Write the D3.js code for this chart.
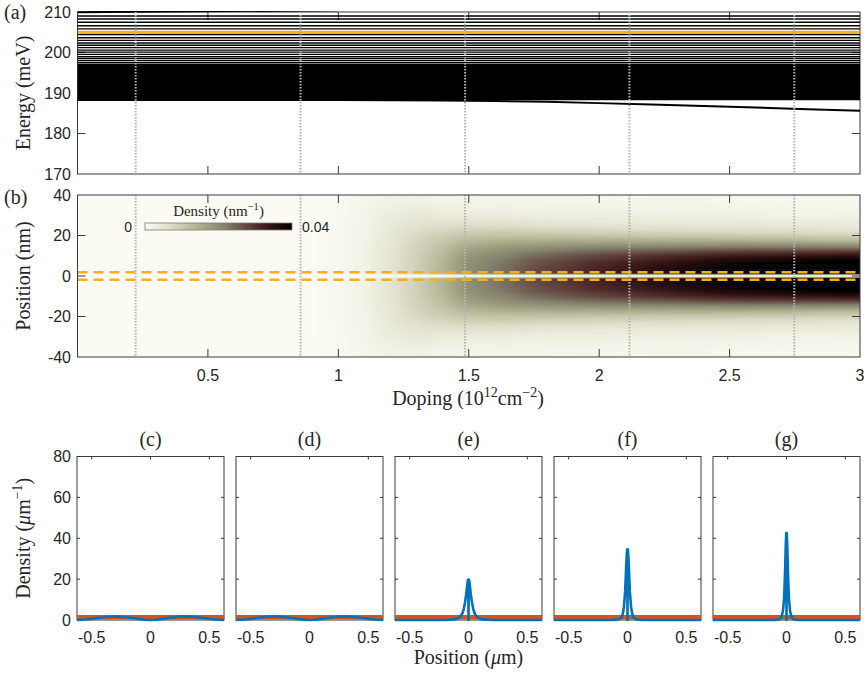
<!DOCTYPE html>
<html>
<head>
<meta charset="utf-8">
<script src="https://cdn.jsdelivr.net/npm/d3@7"></script>
<style>
  body { margin: 0; background: #fff; }
  svg { display: block; }
</style>
</head>
<body>
<svg id="fig" width="864" height="673"></svg>
<script>
// ---------- data ----------
// (a) subband energies (meV) that stay flat across the doping range
const levelEnergies = [209.0, 208.27, 207.46, 206.6, 205.85, 204.45, 203.65, 203.0, 202.35, 201.8,
  201.2, 200.6, 200.1, 199.55, 198.96, 198.47, 197.98, 197.48,
  196.9, 196.6, 196.3, 196.0, 195.7, 195.4, 195.1, 194.8, 194.5, 194.2, 193.9, 193.6, 193.3,
  193.0, 192.7, 192.45, 192.2, 191.95, 191.7, 191.45, 191.2, 190.95, 190.7, 190.5, 190.3,
  190.1, 189.9, 189.7, 189.5, 189.3, 189.1, 188.95, 188.8, 188.65, 188.5, 188.4];
// lowest subband, pulled down at high doping
const groundDoping = [0, 0.8, 1.0, 1.2, 1.4, 1.6, 1.8, 2.0, 2.2, 2.4, 2.6, 2.8, 3.0];
const groundEnergy = [188.3, 188.3, 188.28, 188.22, 188.12, 188.0, 187.85, 187.5, 187.15, 186.8, 186.4, 186.0, 185.6];
// highest subband, leaving the window
const topDoping = [0, 1.0];
const topEnergy = [209.95, 210.43];
// chemical potential (meV)
const fermiEnergy = 205.05;
// doping values of the cuts (c)-(g)
const cutDoping = [0.223, 0.855, 1.486, 2.116, 2.748];

// (b) density map: peak density and spread per doping value
const mapDoping = [0, 0.9, 1.0, 1.1, 1.2, 1.3, 1.4, 1.5, 1.75, 2.0, 2.25, 2.5, 2.75, 3.0];
const mapPeak   = [0, 0, 0.0005, 0.002, 0.005, 0.009, 0.014, 0.020, 0.027, 0.032, 0.036, 0.040, 0.0425, 0.045];
const mapWidth  = [40, 40, 40, 34, 28, 23, 19, 17, 15, 13.8, 13, 12.5, 12, 11.5];
// transverse profile (distance / spread -> relative density)
const shapeU = [0, 0.25, 0.5, 0.75, 1, 1.25, 1.5, 1.75, 2, 2.5, 3, 4, 5, 8];
const shapeS = [1, 0.99, 0.95, 0.85, 0.68, 0.48, 0.3, 0.18, 0.11, 0.05, 0.025, 0.01, 0.005, 0];
// node at the centre of the wire (nm -> factor)
const nodeY = [0, 0.4, 0.8, 1.2, 1.6];
const nodeF = [0, 0.15, 0.5, 0.85, 1];
// guide positions (nm)
const guidePos = [1.9, -1.9];
// colour map stops (fraction of 0.04 nm^-1)
const cmapStops  = [0, 0.15, 0.3, 0.45, 0.55, 0.65, 0.75, 0.87, 1];
const cmapColors = ["#fbfbf4", "#e0e0cc", "#bfbfa2", "#9a9a7b", "#83806c", "#6c554c", "#52302d", "#2c0f0f", "#000000"];
const cmapMax = 0.04;

// (c)-(g) line densities along the wire (µm^-1)
const cutTitles = ["(c)", "(d)", "(e)", "(f)", "(g)"];
const waveX = [-0.625, -0.55, -0.5, -0.45, -0.4, -0.35, -0.3, -0.25, -0.2, -0.15, -0.1, -0.05, 0,
  0.05, 0.1, 0.15, 0.2, 0.25, 0.3, 0.35, 0.4, 0.45, 0.5, 0.55, 0.625];
const waveC = [0, 0.25, 0.6, 1.0, 1.35, 1.6, 1.7, 1.6, 1.35, 1.0, 0.55, 0.15, 0,
  0.15, 0.55, 1.0, 1.35, 1.6, 1.7, 1.6, 1.35, 1.0, 0.6, 0.25, 0];
const spikeX = [-0.625, -0.2, -0.15, -0.12, -0.1, -0.08, -0.06, -0.05, -0.04, -0.03, -0.02, -0.012, -0.006, -0.002, 0,
  0.002, 0.006, 0.012, 0.02, 0.03, 0.04, 0.05, 0.06, 0.08, 0.1, 0.12, 0.15, 0.2, 0.625];
const spikeE = [0, 0.05, 0.15, 0.3, 0.6, 1.2, 2.4, 3.6, 5.5, 8.5, 12.5, 16.5, 19.2, 19.8, 0,
  19.8, 19.2, 16.5, 12.5, 8.5, 5.5, 3.6, 2.4, 1.2, 0.6, 0.3, 0.15, 0.05, 0];
const spikeF = [0, 0, 0.02, 0.05, 0.1, 0.3, 0.8, 1.5, 3, 6.5, 14, 25, 32.5, 34.6, 0,
  34.6, 32.5, 25, 14, 6.5, 3, 1.5, 0.8, 0.3, 0.1, 0.05, 0.02, 0, 0];
const spikeG = [0, 0, 0, 0.02, 0.05, 0.15, 0.4, 0.9, 2, 4.5, 11, 24, 37, 42.5, 0,
  42.5, 37, 24, 11, 4.5, 2, 0.9, 0.4, 0.15, 0.05, 0.02, 0, 0, 0];
const cutBlue = [[waveX, waveC], [waveX, waveC], [spikeX, spikeE], [spikeX, spikeF], [spikeX, spikeG]];
const bulkX = [-0.625, 0.625];
const bulkY = [1.3, 1.3];

// tick values
const dopingTicks = [0.5, 1, 1.5, 2, 2.5];
const dopingTickLabels = ["0.5", "1", "1.5", "2", "2.5", "3"];
const energyTicks = [170, 180, 190, 200, 210];
const posTicks = [-40, -20, 0, 20, 40];
const cutXTicks = [-0.5, 0, 0.5];
const cutYTicks = [0, 20, 40, 60, 80];

// ---------- drawing ----------
const svg = d3.select("#fig");
const sans = "'Liberation Sans', Arial, sans-serif";
const serif = "'Liberation Serif', 'Times New Roman', serif";
const axisColor = "#3a3a3a";
const textColor = "#262626";
const blue = "#0072BD", red = "#D95319", gold = "#EDB120";

const xDop = d3.scaleLinear().domain([0, 3]).range([77.5, 860]);
const yE = d3.scaleLinear().domain([170, 210]).range([174, 12]);
const yPos = d3.scaleLinear().domain([-40, 40]).range([357, 195]);

function frame(g, x, y, xt, yt, len) {
  const [x0, x1] = x.range();
  const [yb, yt0] = y.range();
  g.append("rect").attr("x", x0).attr("y", yt0).attr("width", x1 - x0).attr("height", yb - yt0)
    .attr("fill", "none").attr("stroke", axisColor).attr("stroke-width", 1);
  const t = g.append("g").attr("stroke", axisColor).attr("stroke-width", 1);
  xt.forEach(v => {
    t.append("line").attr("x1", x(v)).attr("x2", x(v)).attr("y1", yb).attr("y2", yb - len);
    t.append("line").attr("x1", x(v)).attr("x2", x(v)).attr("y1", yt0).attr("y2", yt0 + len);
  });
  yt.forEach(v => {
    t.append("line").attr("y1", y(v)).attr("y2", y(v)).attr("x1", x0).attr("x2", x0 + len);
    t.append("line").attr("y1", y(v)).attr("y2", y(v)).attr("x1", x1).attr("x2", x1 - len);
  });
}

function yLabels(g, y, vals, xRight, size) {
  g.selectAll(null).data(vals).enter().append("text")
    .attr("x", xRight).attr("y", d => y(d)).attr("dy", "0.36em")
    .attr("text-anchor", "end").attr("font-family", sans).attr("font-size", size)
    .attr("fill", textColor).text(d => d);
}

function dotted(g, yScale) {
  const [yb, yt0] = yScale.range();
  g.selectAll(null).data(cutDoping).enter().append("line")
    .attr("x1", d => xDop(d)).attr("x2", d => xDop(d)).attr("y1", yt0).attr("y2", yb)
    .attr("stroke", "#b4b4b4").attr("stroke-width", 2).attr("stroke-dasharray", "1.5,1.5");
}

const defs = svg.append("defs");

// ===== (a) energy levels =====
const ga = svg.append("g");
defs.append("clipPath").attr("id", "clipA").append("rect")
  .attr("x", xDop(0)).attr("y", yE(210) - 1).attr("width", xDop(3) - xDop(0)).attr("height", yE(170) - yE(210) + 1);
frame(ga, xDop, yE, dopingTicks, [180, 190, 200], 8);
const la = ga.append("g").attr("clip-path", "url(#clipA)");
// closely packed levels get a stroke wide enough to merge with their neighbour
const levelStroke = (e, i) => {
  const next = i + 1 < levelEnergies.length ? levelEnergies[i + 1] : groundEnergy[0];
  const gapPx = yE(next) - yE(e);
  return gapPx < 1.8 ? gapPx + 0.9 : 1.35;
};
la.selectAll(null).data(levelEnergies).enter().append("line")
  .attr("x1", xDop(0)).attr("x2", xDop(3)).attr("y1", d => yE(d)).attr("y2", d => yE(d))
  .attr("stroke", "#000").attr("stroke-width", levelStroke);
const lineA = d3.line().x(d => xDop(d[0])).y(d => yE(d[1]));
la.append("path").attr("d", lineA(d3.zip(groundDoping, groundEnergy)))
  .attr("fill", "none").attr("stroke", "#000").attr("stroke-width", 2);
la.append("path").attr("d", lineA(d3.zip(topDoping, topEnergy)))
  .attr("fill", "none").attr("stroke", "#000").attr("stroke-width", 2);
la.append("line").attr("x1", xDop(0)).attr("x2", xDop(3)).attr("y1", yE(fermiEnergy)).attr("y2", yE(fermiEnergy))
  .attr("stroke", gold).attr("stroke-width", 2.5);
dotted(ga, yE);
yLabels(ga, yE, energyTicks, 71, 16);
ga.append("text").attr("transform", `translate(30,${(yE(170) + yE(210)) / 2}) rotate(-90)`)
  .attr("text-anchor", "middle").attr("font-family", serif).attr("font-size", 20).attr("fill", textColor)
  .text("Energy (meV)");
ga.append("text").attr("x", 4).attr("y", 19).attr("font-family", serif).attr("font-size", 20)
  .attr("fill", textColor).text("(a)");

// ===== (b) density map =====
const gb = svg.append("g");
const color = d3.scaleLinear().domain(cmapStops.map(s => s * cmapMax)).range(cmapColors)
  .interpolate(d3.interpolateRgb).clamp(true);
const peakAt = d3.scaleLinear().domain(mapDoping).range(mapPeak).clamp(true);
const widthAt = d3.scaleLinear().domain(mapDoping).range(mapWidth).clamp(true);
const shapeAt = d3.scaleLinear().domain(shapeU).range(shapeS).clamp(true);
const nodeAt = d3.scaleLinear().domain(nodeY).range(nodeF).clamp(true);

const mx0 = xDop.range()[0], mx1 = xDop.range()[1];
const my0 = yPos.range()[1], my1 = yPos.range()[0];
const cw = Math.round(mx1 - mx0), ch = Math.round(my1 - my0);
const canvas = document.createElement("canvas");
canvas.width = cw; canvas.height = ch;
const ctx = canvas.getContext("2d");
const img = ctx.createImageData(cw, ch);
for (let i = 0; i < cw; i++) {
  const d = xDop.invert(mx0 + i + 0.5);
  const A = peakAt(d), w = widthAt(d);
  for (let j = 0; j < ch; j++) {
    const p = Math.abs(yPos.invert(my0 + j + 0.5));
    const rho = A * shapeAt(p / w) * nodeAt(p);
    const c = d3.rgb(color(rho));
    const k = (j * cw + i) * 4;
    img.data[k] = c.r; img.data[k + 1] = c.g; img.data[k + 2] = c.b; img.data[k + 3] = 255;
  }
}
ctx.putImageData(img, 0, 0);
gb.append("image").attr("href", canvas.toDataURL()).attr("x", mx0).attr("y", my0)
  .attr("width", mx1 - mx0).attr("height", my1 - my0).attr("preserveAspectRatio", "none");

gb.selectAll(null).data(guidePos).enter().append("line")
  .attr("x1", mx0).attr("x2", mx1).attr("y1", d => yPos(d)).attr("y2", d => yPos(d))
  .attr("stroke", gold).attr("stroke-width", 2.5).attr("stroke-dasharray", "10,6");
dotted(gb, yPos);
frame(gb, xDop, yPos, dopingTicks, [-20, 0, 20], 8);
yLabels(gb, yPos, posTicks, 71, 16);
gb.selectAll(null).data([0.5, 1, 1.5, 2, 2.5, 3]).enter().append("text")
  .attr("x", d => xDop(d)).attr("y", 381).attr("text-anchor", "middle")
  .attr("font-family", sans).attr("font-size", 16).attr("fill", textColor)
  .text((d, i) => dopingTickLabels[i]);
gb.append("text").attr("transform", `translate(30,${(my0 + my1) / 2}) rotate(-90)`)
  .attr("text-anchor", "middle").attr("font-family", serif).attr("font-size", 20).attr("fill", textColor)
  .text("Position (nm)");
gb.append("text").attr("x", 4).attr("y", 204).attr("font-family", serif).attr("font-size", 20)
  .attr("fill", textColor).text("(b)");
{
  const t = gb.append("text").attr("x", 468).attr("y", 405).attr("text-anchor", "middle")
    .attr("font-family", serif).attr("font-size", 20).attr("fill", textColor);
  t.append("tspan").text("Doping (10");
  t.append("tspan").attr("dy", -8).attr("font-size", 14).text("12");
  t.append("tspan").attr("dy", 8).text("cm");
  t.append("tspan").attr("dy", -8).attr("font-size", 14).text("\u22122");
  t.append("tspan").attr("dy", 8).text(")");
}

// colour bar
const cbX = d3.scaleLinear().domain([0, cmapMax]).range([145, 292]);
const grad = defs.append("linearGradient").attr("id", "cbGrad").attr("x1", 0).attr("x2", 1).attr("y1", 0).attr("y2", 0);
cmapStops.forEach((s, i) => grad.append("stop").attr("offset", s).attr("stop-color", cmapColors[i]));
gb.append("rect").attr("x", cbX(0)).attr("y", 223).attr("width", cbX(cmapMax) - cbX(0)).attr("height", 7)
  .attr("fill", "url(#cbGrad)").attr("stroke", "#7a7a7a").attr("stroke-width", 0.8);
gb.append("text").attr("x", cbX(0) - 13).attr("y", 231.5).attr("text-anchor", "end")
  .attr("font-family", sans).attr("font-size", 14).attr("fill", textColor).text("0");
gb.append("text").attr("x", cbX(cmapMax) + 10).attr("y", 231.5).attr("text-anchor", "start")
  .attr("font-family", sans).attr("font-size", 14).attr("fill", textColor).text("0.04");
{
  const t = gb.append("text").attr("x", (cbX(0) + cbX(cmapMax)) / 2).attr("y", 216).attr("text-anchor", "middle")
    .attr("font-family", serif).attr("font-size", 15).attr("fill", textColor);
  t.append("tspan").text("Density (nm");
  t.append("tspan").attr("dy", -6).attr("font-size", 10.5).text("\u22121");
  t.append("tspan").attr("dy", 6).text(")");
}

// ===== (c)-(g) cuts =====
const cutY = d3.scaleLinear().domain([0, 80]).range([620, 456.5]);
cutTitles.forEach((title, i) => {
  const left = 77 + 159 * i;
  const x = d3.scaleLinear().domain([-0.625, 0.625]).range([left, left + 147]);
  const g = svg.append("g");
  frame(g, x, cutY, cutXTicks, [20, 40, 60], 3);
  const line = d3.line().x(d => x(d[0])).y(d => cutY(d[1]));
  g.append("path").attr("d", line(d3.zip(bulkX, bulkY)))
    .attr("fill", "none").attr("stroke", red).attr("stroke-width", 4.5);
  const [bx, by] = cutBlue[i];
  g.append("path").attr("d", line(d3.zip(bx, by)))
    .attr("fill", "none").attr("stroke", blue).attr("stroke-width", 2.6).attr("stroke-linejoin", "round");
  g.selectAll(null).data(cutXTicks).enter().append("text")
    .attr("x", d => x(d)).attr("y", 643).attr("text-anchor", "middle")
    .attr("font-family", sans).attr("font-size", 16).attr("fill", textColor).text(d => d);
  g.append("text").attr("x", left + 73.5).attr("y", 446).attr("text-anchor", "middle")
    .attr("font-family", serif).attr("font-size", 20).attr("fill", textColor).text(title);
  if (i === 0) yLabels(g, cutY, cutYTicks, 71, 16);
});
{
  const t = svg.append("text").attr("transform", `translate(30,${(cutY(0) + cutY(80)) / 2}) rotate(-90)`)
    .attr("text-anchor", "middle").attr("font-family", serif).attr("font-size", 20).attr("fill", textColor);
  t.append("tspan").text("Density (");
  t.append("tspan").attr("font-style", "italic").text("\u03bc");
  t.append("tspan").text("m");
  t.append("tspan").attr("dy", -8).attr("font-size", 14).text("\u22121");
  t.append("tspan").attr("dy", 8).text(")");
}
{
  const t = svg.append("text").attr("x", 77 + 159 * 2 + 73.5).attr("y", 664).attr("text-anchor", "middle")
    .attr("font-family", serif).attr("font-size", 20).attr("fill", textColor);
  t.append("tspan").text("Position (");
  t.append("tspan").attr("font-style", "italic").text("\u03bc");
  t.append("tspan").text("m)");
}
</script>
</body>
</html>
